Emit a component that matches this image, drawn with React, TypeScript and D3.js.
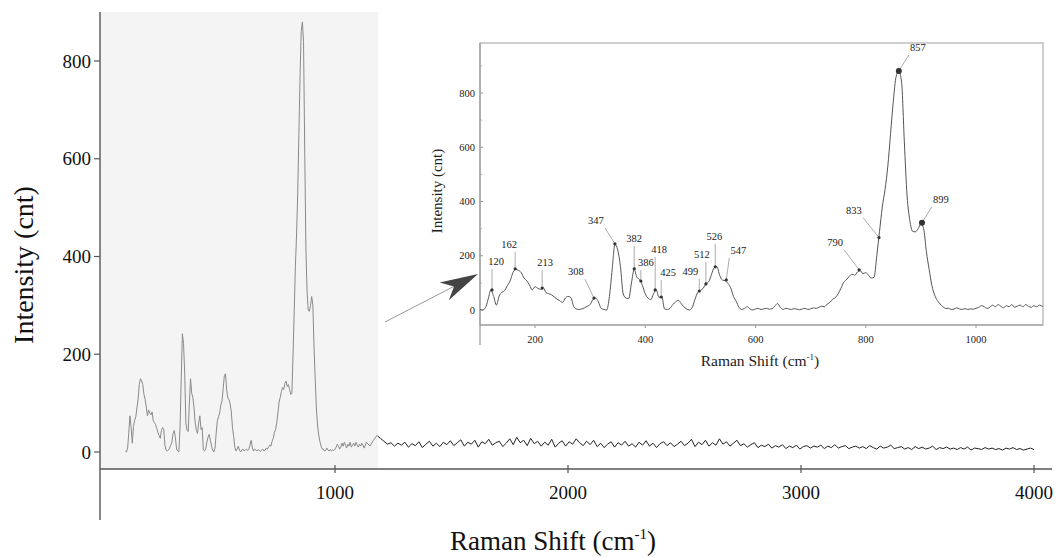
import React from 'react';
import * as d3 from 'd3';

// Raman spectrum, 100-1125 cm-1 sampled every 5 cm-1
const lowStart = 100;
const lowStep = 5;
const lowIntensity = [
  2, 0, 8, 40, 74, 50, 18, 52, 65, 72, // 100-145
  90, 108, 138, 150, 146, 138, 118, 108, 92, 74, // 150-195
  86, 80, 76, 82, 64, 60, 56, 48, 40, 34, // 200-245
  28, 44, 50, 46, 14, 4, 2, 4, 8, 14, // 250-295
  20, 38, 44, 30, 6, 2, 0, 50, 150, 242, // 300-345
  222, 160, 60, 44, 42, 100, 150, 120, 112, 90, // 350-395
  60, 44, 38, 60, 74, 46, 50, 4, 2, 6, // 400-445
  20, 30, 36, 24, 12, 4, 0, 8, 38, 64, // 450-495
  72, 80, 96, 104, 130, 156, 160, 128, 110, 108, // 500-545
  98, 82, 50, 32, 10, 2, 6, 12, 4, 0, // 550-595
  4, 6, 2, 4, 6, 3, 5, 14, 24, 10, // 600-645
  2, 6, 4, 2, 5, 3, 1, 4, 6, 2, // 650-695
  4, 8, 6, 10, 14, 12, 22, 28, 40, 46, // 700-745
  60, 80, 102, 112, 124, 132, 128, 140, 145, 134, // 750-795
  138, 128, 118, 120, 200, 290, 380, 444, 530, 650, // 800-845
  770, 860, 880, 840, 620, 420, 330, 290, 288, 300, // 850-895
  318, 300, 215, 150, 90, 55, 35, 22, 12, 6, // 900-945
  6, 2, 3, 8, 4, 2, 5, 2, 4, 3, // 950-995
  6, 10, 16, 12, 6, 10, 18, 12, 20, 14, // 1000-1045
  8, 16, 12, 20, 10, 14, 18, 12, 20, 14, // 1050-1095
  10, 16, 12, 18, 14, 8, // 1100-1125
];

// 1135-4000 cm-1 sampled every 15 cm-1
const tailStart = 1135;
const tailStep = 15;
const tailIntensity = [
  20, 12, 24, 34, 28, 22, 16, 19, 12, 18, 14, 20,
  10, 17, 13, 21, 9, 16, 22, 12, 18, 11, 20, 15, 23,
  13, 19, 25, 12, 20, 16, 24, 10, 21, 17, 26, 14, 19,
  22, 11, 18, 27, 15, 30, 19, 24, 13, 28, 17, 22, 12,
  20, 14, 26, 10, 18, 23, 12, 21, 16, 27, 19, 13, 22,
  15, 24, 11, 18, 9, 16, 21, 10, 19, 14, 22, 12, 17,
  10, 20, 14, 23, 12, 18, 9, 17, 21, 13, 19, 11, 16,
  22, 13, 18, 26, 11, 20, 15, 24, 12, 19, 14, 27, 16,
  21, 12, 18, 24, 13, 17, 10, 15, 19, 9, 14, 11, 16,
  8, 13, 10, 15, 7, 12, 9, 14, 6, 11, 13, 8, 12,
  10, 14, 7, 12, 9, 15, 8, 11, 13, 7, 10, 12, 8,
  11, 7, 13, 9, 6, 12, 8, 10, 14, 7, 9, 11, 6,
  9, 5, 11, 7, 10, 6, 8, 12, 5, 9, 7, 10, 6,
  8, 5, 9, 6, 10, 4, 8, 7, 5, 9, 6, 8, 5,
  7, 4, 8, 6, 9, 5, 7, 4, 6, 8, 5,
];

// annotated peaks in the inset
const peakLabels = ['120', '162', '213', '308', '347', '382', '386', '418', '425', '499', '512', '526', '547', '790', '833', '857', '899'];
const peakShifts = [122, 164, 213, 307, 345, 380, 392, 418, 429, 498, 510, 527, 547, 788, 824, 860, 902];
const peakIntensity = [74, 152, 81, 44, 244, 152, 107, 74, 48, 70, 96, 159, 111, 148, 267, 881, 322];
const bigPeaks = ['857', '899'];

const mainXTicks = [1000, 2000, 3000, 4000];
const mainYTicks = [0, 200, 400, 600, 800];
const insetXTicks = [200, 400, 600, 800, 1000];
const insetYTicks = [0, 200, 400, 600, 800];
const insetYMinor = [100, 300, 500, 700, 900];
const zoomedUpTo = 1185;

// where each peak label sits relative to its marker (px)
const labelOffsets: Record<string, [number, number]> = {
  '120': [4, -26], '162': [-6, -22], '213': [3, -23], '308': [-18, -24],
  '347': [-19, -21], '382': [0, -28], '386': [5, -16], '418': [4, -38],
  '425': [7, -22], '499': [-9, -17], '512': [-4, -27], '526': [-1, -28],
  '547': [12, -27], '790': [-24, -25], '833': [-25, -25], '857': [19, -21],
  '899': [19, -21],
};

const serif = "'Liberation Serif', 'Times New Roman', serif";

type Pt = [number, number];

export default function App() {
  const low: Pt[] = lowIntensity.map((v, i) => [lowStart + i * lowStep, v]);
  const tail: Pt[] = tailIntensity.map((v, i) => [tailStart + i * tailStep, v]);
  const spectrum = low.concat(tail);

  // main chart
  const x = d3.scaleLinear().domain([0, 4000]).range([102, 1034]);
  const y = d3.scaleLinear().domain([0, 800]).range([452, 61]);
  const axisY = 469;
  const shadeX = x(zoomedUpTo);
  const mainLine = d3.line<Pt>().x(d => x(d[0])).y(d => y(d[1]));
  const mainPath = mainLine(spectrum) || '';

  // inset
  const xi = d3.scaleLinear().domain([200, 1000]).range([535, 976]);
  const yi = d3.scaleLinear().domain([0, 800]).range([310, 93]);
  const fr = { l: 480, r: 1043, t: 43, b: 325 };
  const insetLine = d3.line<Pt>().x(d => xi(d[0])).y(d => yi(d[1])).curve(d3.curveMonotoneX);
  const insetPath = insetLine(spectrum.filter(d => d[0] <= 1150)) || '';

  // arrow from the shaded region to the inset
  const tip: Pt = [478, 274];
  const tail0: Pt = [385, 322];
  const len = Math.hypot(tip[0] - tail0[0], tip[1] - tail0[1]);
  const u: Pt = [(tip[0] - tail0[0]) / len, (tip[1] - tail0[1]) / len];
  const n: Pt = [-u[1], u[0]];
  const back: Pt = [tip[0] - 38 * u[0], tip[1] - 38 * u[1]];
  const notch: Pt = [tip[0] - 27 * u[0], tip[1] - 27 * u[1]];
  const head = [
    tip,
    [back[0] + 10 * n[0], back[1] + 10 * n[1]],
    notch,
    [back[0] - 10 * n[0], back[1] - 10 * n[1]],
  ].map(p => p.join(',')).join(' ');

  return (
    <svg width={1058} height={557} style={{ position: 'absolute', left: 0, top: 0, background: '#fff' }}
      fontFamily={serif}>
      <defs>
        <clipPath id="shadeClip"><rect x={0} y={0} width={shadeX} height={557} /></clipPath>
        <clipPath id="restClip"><rect x={shadeX} y={0} width={1058 - shadeX} height={557} /></clipPath>
        <clipPath id="insetClip"><rect x={fr.l} y={fr.t} width={fr.r - fr.l} height={fr.b - fr.t} /></clipPath>
      </defs>

      {/* shaded zoom region */}
      <rect x={100} y={12} width={shadeX - 100} height={axisY - 12} fill="#f4f4f4" />

      <path d={mainPath} fill="none" stroke="#8a8a8a" strokeWidth={1} clipPath="url(#shadeClip)" />
      <path d={mainPath} fill="none" stroke="#222" strokeWidth={1} clipPath="url(#restClip)" />

      {/* main axes */}
      <line x1={100} x2={100} y1={12} y2={520} stroke="#555" strokeWidth={1.4} />
      <line x1={100} x2={1052} y1={axisY} y2={axisY} stroke="#555" strokeWidth={1.4} />
      {mainYTicks.map(t => (
        <g key={'my' + t}>
          <line x1={94} x2={100} y1={y(t)} y2={y(t)} stroke="#555" strokeWidth={1.2} />
          <text x={91} y={y(t)} dy="0.35em" textAnchor="end" fontSize={19} fill="#111">{t}</text>
        </g>
      ))}
      {mainXTicks.map(t => (
        <g key={'mx' + t}>
          <line x1={x(t)} x2={x(t)} y1={axisY - 4} y2={axisY + 4} stroke="#555" strokeWidth={1.2} />
          <text x={x(t)} y={499} textAnchor="middle" fontSize={19} fill="#111">{t}</text>
        </g>
      ))}
      <text transform="translate(33,265) rotate(-90)" textAnchor="middle" fontSize={28} fill="#111">Intensity (cnt)</text>
      <text x={553} y={550} textAnchor="middle" fontSize={27} fill="#111">
        Raman Shift (cm<tspan dy={-11} fontSize={15}>-1</tspan><tspan dy={11}>)</tspan>
      </text>

      {/* arrow */}
      <line x1={tail0[0]} y1={tail0[1]} x2={notch[0]} y2={notch[1]} stroke="#999" strokeWidth={1} />
      <polygon points={head} fill="#444" />

      {/* inset */}
      <rect x={fr.l} y={fr.t} width={fr.r - fr.l} height={fr.b - fr.t} fill="#fff" stroke="#b0b0b0" strokeWidth={1.2} />
      <line x1={fr.l} x2={fr.l} y1={fr.t} y2={345} stroke="#999" strokeWidth={1.2} />
      <line x1={fr.l} x2={fr.r} y1={fr.b} y2={fr.b} stroke="#999" strokeWidth={1.2} />
      {insetYTicks.map(t => (
        <g key={'iy' + t}>
          <line x1={fr.l} x2={fr.l + 3} y1={yi(t)} y2={yi(t)} stroke="#999" />
          <text x={475} y={yi(t)} dy="0.35em" textAnchor="end" fontSize={10.5} fill="#222">{t}</text>
        </g>
      ))}
      {insetYMinor.map(t => (
        <line key={'iym' + t} x1={fr.l} x2={fr.l + 2} y1={yi(t)} y2={yi(t)} stroke="#aaa" />
      ))}
      {insetXTicks.map(t => (
        <g key={'ix' + t}>
          <line x1={xi(t)} x2={xi(t)} y1={fr.b} y2={fr.b + 3} stroke="#999" />
          <text x={xi(t)} y={343} textAnchor="middle" fontSize={10.5} fill="#222">{t}</text>
        </g>
      ))}
      <text transform="translate(442,191) rotate(-90)" textAnchor="middle" fontSize={15} fill="#222">Intensity (cnt)</text>
      <text x={760} y={366} textAnchor="middle" fontSize={15.5} fill="#222">
        Raman Shift (cm<tspan dy={-6} fontSize={9}>-1</tspan><tspan dy={6}>)</tspan>
      </text>

      <path d={insetPath} fill="none" stroke="#555" strokeWidth={1} clipPath="url(#insetClip)" />

      {peakLabels.map((lab, i) => {
        const px = xi(peakShifts[i]);
        const py = yi(peakIntensity[i]);
        const [dx, dy] = labelOffsets[lab];
        const tx = px + dx;
        const ty = py + dy;
        const ex = tx - Math.sign(dx) * Math.min(Math.abs(dx), 9);
        const ey = ty + 5;
        const big = bigPeaks.includes(lab);
        return (
          <g key={'pk' + lab}>
            <line x1={px} y1={py} x2={ex} y2={ey} stroke="#888" strokeWidth={0.7} />
            <circle cx={px} cy={py} r={big ? 3 : 1.6} fill="#333" />
            <text x={tx} y={ty} dy="0.1em" textAnchor="middle" fontSize={10.5} fill="#222">{lab}</text>
          </g>
        );
      })}
    </svg>
  );
}
